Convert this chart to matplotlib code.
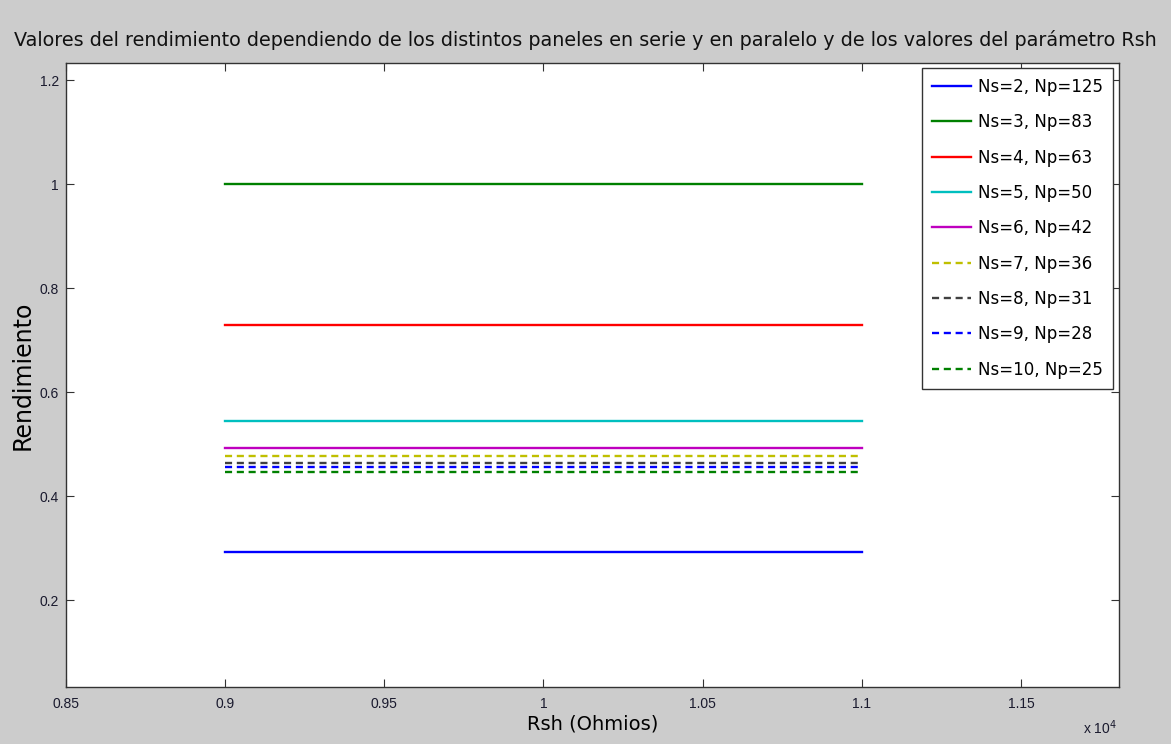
import matplotlib
matplotlib.use("Agg")
import matplotlib.pyplot as plt
from matplotlib.ticker import FixedLocator, FuncFormatter

# Shunt resistance range (ohms)
rsh = [9000, 11000]

# Series/parallel panel configurations
ns = [2, 3, 4, 5, 6, 7, 8, 9, 10]
np_ = [125, 83, 63, 50, 42, 36, 31, 28, 25]

# Efficiency for each configuration (constant over Rsh)
rendimiento = [0.292, 1.0, 0.729, 0.544, 0.493, 0.477, 0.463, 0.456, 0.446]

colors = ["#0000ff", "#008000", "#ff0000", "#00bfbf", "#bf00bf",
          "#bfbf00", "#404040", "#0000ff", "#008000"]
styles = ["-", "-", "-", "-", "-", "--", "--", "--", "--"]

xticks = [0.85, 0.9, 0.95, 1.0, 1.05, 1.1, 1.15]
yticks = [0.2, 0.4, 0.6, 0.8, 1.0, 1.2]

fig = plt.figure(figsize=(11.71, 7.44), dpi=100, facecolor="#cccccc")
ax = fig.add_axes([66 / 1171, 1 - 687 / 744, (1119 - 66) / 1171, (687 - 63) / 744])
ax.set_facecolor("white")

for k in range(len(ns)):
    ax.plot([r / 1e4 for r in rsh], [rendimiento[k]] * len(rsh),
            color=colors[k], linestyle=styles[k], linewidth=1.7,
            dashes=(3, 2) if styles[k] == "--" else (None, None),
            label=f"Ns={ns[k]}, Np={np_[k]}")

ax.set_xlim(0.85, 1.1808)
ax.set_ylim(0.033, 1.2327)
ax.xaxis.set_major_locator(FixedLocator(xticks))
ax.yaxis.set_major_locator(FixedLocator(yticks))
ax.xaxis.set_major_formatter(FuncFormatter(lambda v, p: f"{v:g}"))
ax.yaxis.set_major_formatter(FuncFormatter(lambda v, p: f"{v:g}"))
ax.tick_params(direction="in", length=6, width=0.8, top=True, right=True,
               labelsize=10, colors="#333333")
ax.tick_params(axis="x", pad=7)
ax.tick_params(axis="y", pad=5)
for lbl in ax.get_xticklabels() + ax.get_yticklabels():
    lbl.set_fontfamily("Liberation Sans")
    lbl.set_color("#1a1a2e")
for s in ax.spines.values():
    s.set_color("#333333")
    s.set_linewidth(1.0)

ax.set_xlabel("Rsh (Ohmios)", fontsize=14, family="DejaVu Sans", labelpad=3)
ax.set_ylabel("Rendimiento", fontsize=17, family="DejaVu Sans", labelpad=3.5)
fig.text(0.5, 1 - 40 / 744, "Valores del rendimiento dependiendo de los distintos paneles en serie y en paralelo y de los valores del parámetro Rsh",
         ha="center", va="center", fontsize=13.8, family="DejaVu Sans", color="#111111")
fig.text(1100 / 1171, 1 - 728 / 744, r"x 10$^{4}$", ha="center", va="center",
         fontsize=10, family="Liberation Sans", color="#1a1a2e")

leg = ax.legend(loc="upper right", bbox_to_anchor=(1113 / 1171, 1 - 68 / 744),
                bbox_transform=fig.transFigure, borderaxespad=0, fontsize=12,
                fancybox=False, framealpha=1, edgecolor="#333333",
                handlelength=2.35, labelspacing=1.04, handletextpad=0.4,
                borderpad=0.6)
leg.get_frame().set_linewidth(1.0)

fig.savefig("out.png", dpi=100, facecolor=fig.get_facecolor())
